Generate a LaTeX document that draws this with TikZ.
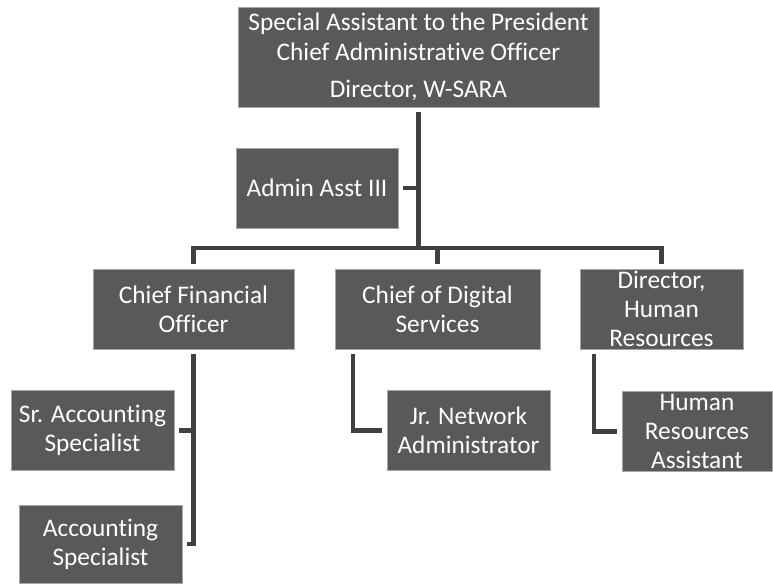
\documentclass[tikz,border=0pt]{standalone}
\usepackage{fontspec}
\setmainfont[Ligatures=CommonOff]{Carlito}
\usepackage{tikz}
\definecolor{orgfill}{HTML}{595959}
\definecolor{orgline}{HTML}{404040}
\definecolor{orgedge}{HTML}{A6A6A6}

\begin{document}
\begin{tikzpicture}[x=0.75pt, y=-0.75pt,
   box/.style={draw=orgedge, line width=0.5pt, fill=orgfill, text=white,
               align=center, inner xsep=2pt, inner ysep=-2pt, outer sep=3.75pt,
               minimum height=60pt, font=\fontsize{19}{21.5}\selectfont},
   link/.style={draw=orgline, line width=3.5pt}]
  \useasboundingbox (0,0) rectangle (773,584);

  \node[box, minimum width=270.75pt, minimum height=75pt] (top) at (418.5,57)
    {Special Assistant to the President\\[1pt]Chief Administrative Officer\\[6pt]Director, W-SARA};
  \node[box, minimum width=121.5pt] (admin) at (317,188) {Admin Asst III};

  \node[box, minimum width=150.75pt] (cfo) at (193.5,309) {Chief Financial\\Officer};
  \node[box, minimum width=153.75pt] (cds) at (437.5,309) {Chief of Digital\\Services};
  \node[box, minimum width=122.25pt] (dhr) at (661.5,309) {Director,\\Human\\Resources};

  \node[box, minimum width=122.25pt] (sracct) at (92.5,430.5) {Sr. Accounting\\Specialist};
  \node[box, minimum width=122.25pt, minimum height=58.5pt] (acct) at (100.5,544) {Accounting\\Specialist};
  \node[box, minimum width=122.25pt] (jrnet) at (468.5,430.5) {Jr. Network\\Administrator};
  \node[box, minimum width=112.5pt] (hrasst) at (697,431.5) {Human\\Resources\\Assistant};

  \coordinate (bar) at (418.5,248);
  \draw[link] (top.south) -- (bar);
  \draw[link] (cfo.north) |- (bar) -| (dhr.north);
  \draw[link] (bar -| cds.north) -- (cds.north);
  \draw[link] (admin.east) -- (admin.east -| top.south);

  \draw[link] (cfo.south) |- (acct.east);
  \draw[link] (sracct.east) -- (sracct.east -| cfo.south);
  \draw[link] ([xshift=17.25pt]cds.south west) |- (jrnet.west);
  \draw[link] ([xshift=14.25pt]dhr.south west) |- (hrasst.west);
\end{tikzpicture}
\end{document}
